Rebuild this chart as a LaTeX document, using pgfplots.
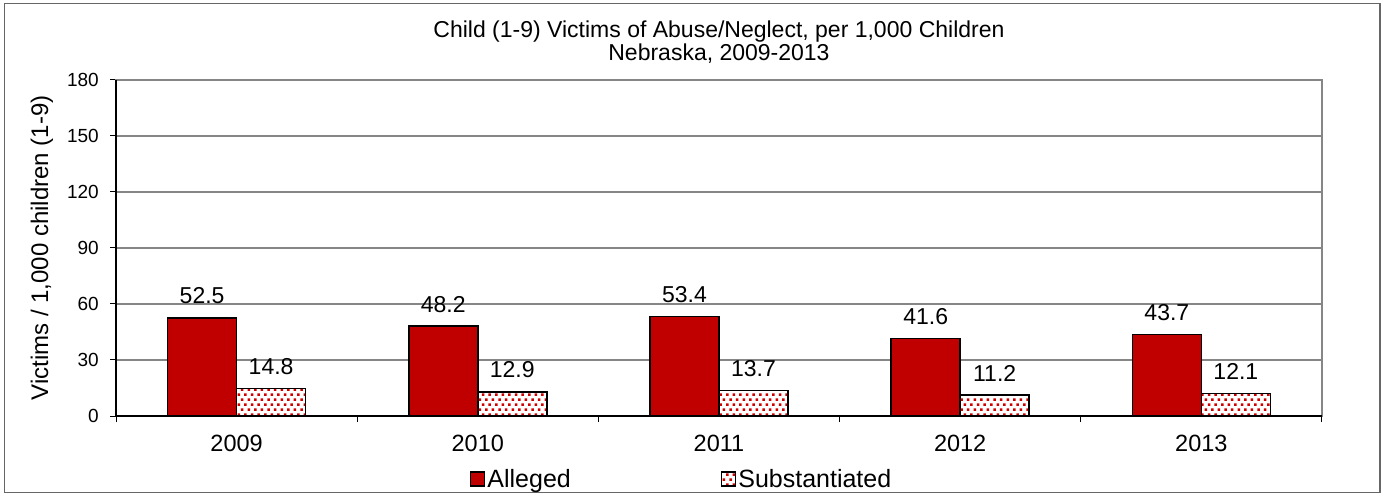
\documentclass[border=0pt]{standalone}
\usepackage{pgfplots}
\pgfplotsset{compat=1.18}
\usepackage{fontspec}
\setmainfont{Liberation Sans}
\usetikzlibrary{patterns}
\definecolor{alleged}{HTML}{C00000}
\definecolor{dotred}{HTML}{D00000}
\definecolor{gridgray}{HTML}{868686}
\pgfdeclarepatternformonly{mydots}{\pgfpoint{-1bp}{-1bp}}{\pgfpoint{7.6bp}{11bp}}{\pgfpoint{6.6bp}{10bp}}{%
  \pgfpathrectangle{\pgfpoint{0bp}{0bp}}{\pgfpoint{2.5bp}{2.5bp}}%
  \pgfpathrectangle{\pgfpoint{3.3bp}{5bp}}{\pgfpoint{2.5bp}{2.5bp}}%
  \pgfusepath{fill}}
\begin{document}
\begin{tikzpicture}
\path (0,0) rectangle (1386bp,496bp);
\draw[gray!80!black, line width=1.3bp] (4.5bp,3.5bp) rectangle (1380bp,492.5bp);
\begin{axis}[
  at={(116bp,80bp)}, anchor=south west,
  scale only axis, width=1206bp, height=336bp,
  xmin=-0.5, xmax=4.5, ymin=0, ymax=180,
  ytick={0,30,...,180},
  xtick={-0.5,0.5,...,4.5},
  xticklabels={,,,,,},
  extra x ticks={0,1,2,3,4},
  extra x tick labels={2009,2010,2011,2012,2013},
  extra x tick style={major tick length=0pt},
  xtick pos=bottom, ytick pos=left,
  tick align=outside,
  major tick length=6bp,
  tick style={black, line width=1bp},
  ymajorgrids,
  grid style={gridgray, line width=1.3bp},
  axis line style={gridgray, line width=1.3bp},
  /pgf/number format/assume math mode=true,
  xticklabel style={font=\fontsize{23.5bp}{28bp}\selectfont, anchor=base, yshift=-35bp},
  yticklabel style={font=\fontsize{19bp}{23bp}\selectfont, anchor=east, inner sep=0pt, xshift=-11bp},
  ylabel={Victims / 1,000 children (1-9)},
  ylabel style={font=\fontsize{24bp}{28bp}\selectfont, at={(axis description cs:-0.0614,0.5)}, anchor=center},
  title={Child (1-9) Victims of Abuse/Neglect, per 1,000 Children\\Nebraska, 2009-2013},
  title style={font=\fontsize{23bp}{23bp}\selectfont, align=center, at={(axis description cs:0.5,1.095)}, anchor=center},
  ybar=0pt, bar width=69bp,
  nodes near coords,
  every node near coord/.append style={font=\fontsize{23bp}{27bp}\selectfont, anchor=base, yshift=14bp,
     /pgf/number format/fixed, /pgf/number format/fixed zerofill, /pgf/number format/precision=1},
  legend image code/.code={\draw[#1] (0bp,-7bp) rectangle (14bp,7bp);},
  legend style={at={(0.469,-0.1875)}, anchor=center, draw=none, legend columns=2,
     font=\fontsize{25bp}{28bp}\selectfont, inner sep=0pt,
     nodes={inner sep=2bp},
     /tikz/every even column/.append style={column sep=148bp}},
  clip=false,
]
\addplot[draw=black, line width=1.5bp, fill=alleged] coordinates {(0,52.5) (1,48.2) (2,53.4) (3,41.6) (4,43.7)};
\addlegendentry{Alleged}
\addplot[draw=black, line width=1.5bp, fill=white, postaction={pattern=mydots, pattern color=dotred}] coordinates {(0,14.8) (1,12.9) (2,13.7) (3,11.2) (4,12.1)};
\addlegendentry{Substantiated}
\draw[black, line width=1.3bp] (rel axis cs:0,1) -- (rel axis cs:0,0) -- (rel axis cs:1,0);
\end{axis}
\end{tikzpicture}
\end{document}
